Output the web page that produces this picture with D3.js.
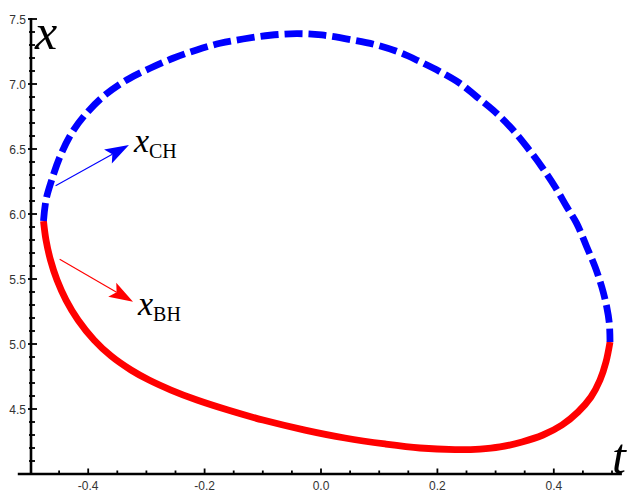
<!DOCTYPE html>
<html>
<head>
<meta charset="utf-8">
<script src="https://cdn.jsdelivr.net/npm/d3@7"></script>
<style>
  body { margin: 0; background: #fff; }
  svg { display: block; }
</style>
</head>
<body>
<div id="chart"></div>
<script>
// upper branch x_CH (dashed blue), from left junction over the top to right junction
const upperT = [-0.4768, -0.4725, -0.4627, -0.4485, -0.4284, -0.4026, -0.3711, -0.3338, -0.2938, -0.2543,
  -0.2136, -0.1735, -0.1340, -0.0876, -0.0418, 0.0012, 0.0550, 0.0957, 0.1357, 0.1701, 0.2045, 0.2388,
  0.2675, 0.2955, 0.3247, 0.3534, 0.3792, 0.4021, 0.4222, 0.4393, 0.4565, 0.4708, 0.4823, 0.4909, 0.4954, 0.4966];
const upperX = [5.946, 6.108, 6.262, 6.441, 6.623, 6.777, 6.915, 7.031, 7.121, 7.198,
  7.262, 7.313, 7.346, 7.375, 7.387, 7.377, 7.338, 7.300, 7.242, 7.172, 7.095, 7.005,
  6.902, 6.800, 6.672, 6.518, 6.364, 6.210, 6.056, 5.928, 5.748, 5.595, 5.441, 5.287, 5.159, 5.015];

// lower branch x_BH (solid red)
const lowerT = [-0.4768, -0.4725, -0.4648, -0.4536, -0.4381, -0.4175, -0.3900, -0.3608, -0.3265, -0.2955,
  -0.2577, -0.2131, -0.1598, -0.0997, -0.0275, 0.0412, 0.1100, 0.1701, 0.2302, 0.2732, 0.3076, 0.3454,
  0.3814, 0.4141, 0.4416, 0.4639, 0.4794, 0.4897, 0.4966];
const lowerX = [5.946, 5.800, 5.646, 5.492, 5.338, 5.185, 5.031, 4.908, 4.800, 4.723,
  4.646, 4.569, 4.492, 4.415, 4.338, 4.277, 4.231, 4.200, 4.188, 4.192, 4.208, 4.246,
  4.300, 4.377, 4.477, 4.592, 4.723, 4.862, 5.015];

const tMajor = [-0.4, -0.2, 0.0, 0.2, 0.4];
const tMinor = [-0.45, -0.35, -0.3, -0.25, -0.15, -0.1, -0.05, 0.05, 0.1, 0.15, 0.25, 0.3, 0.35, 0.45, 0.5];
const xMajor = [4.5, 5.0, 5.5, 6.0, 6.5, 7.0, 7.5];
const xMinor = [4.1, 4.2, 4.3, 4.4, 4.6, 4.7, 4.8, 4.9, 5.1, 5.2, 5.3, 5.4, 5.6, 5.7, 5.8, 5.9,
  6.1, 6.2, 6.3, 6.4, 6.6, 6.7, 6.8, 6.9, 7.1, 7.2, 7.3, 7.4];

// arrows pointing at the two branch labels
const arrowNames = ['CH', 'BH'];
const arrowColors = ['#0000ff', '#ff0000'];
const arrowFrom = [[-0.456, 6.218], [-0.449, 5.652]];
const arrowTo = [[-0.330, 6.531], [-0.323, 5.325]];

const W = 628, H = 492;

const svg = d3.select('#chart').append('svg')
  .attr('width', W)
  .attr('height', H);

const xScale = d3.scaleLinear().domain([-0.5, 0.5]).range([30, 612]);
const yScale = d3.scaleLinear().domain([4.0, 7.5]).range([474, 19]);

const axisY0 = yScale(4.0);
const axisX0 = xScale(-0.5) + 1;

// Axes lines
svg.append('line')
  .attr('x1', xScale(-0.521)).attr('x2', xScale(0.517))
  .attr('y1', axisY0).attr('y2', axisY0)
  .attr('stroke', '#000').attr('stroke-width', 2.6);

svg.append('line')
  .attr('x1', axisX0).attr('x2', axisX0)
  .attr('y1', axisY0).attr('y2', yScale(7.5) - 1)
  .attr('stroke', '#000').attr('stroke-width', 2.6);

// x ticks
svg.selectAll('.tmaj').data(tMajor).enter().append('line')
  .attr('x1', d => xScale(d)).attr('x2', d => xScale(d))
  .attr('y1', axisY0).attr('y2', axisY0 - 5.5)
  .attr('stroke', '#000').attr('stroke-width', 1.8);
svg.selectAll('.tmin').data(tMinor).enter().append('line')
  .attr('x1', d => xScale(d)).attr('x2', d => xScale(d))
  .attr('y1', axisY0).attr('y2', axisY0 - 3.5)
  .attr('stroke', '#000').attr('stroke-width', 1.8);

svg.selectAll('.tlab').data(tMajor).enter().append('text')
  .attr('x', d => xScale(d))
  .attr('y', 490)
  .attr('text-anchor', 'middle')
  .attr('font-family', 'Liberation Sans, Arial, sans-serif')
  .attr('font-size', 12)
  .attr('fill', '#333')
  .text(d => d3.format('.1f')(d).replace('−', '-'));

// y ticks
svg.selectAll('.xmaj').data(xMajor).enter().append('line')
  .attr('x1', axisX0 - 3).attr('x2', axisX0 + 6)
  .attr('y1', d => yScale(d)).attr('y2', d => yScale(d))
  .attr('stroke', '#000').attr('stroke-width', 1.8);
svg.selectAll('.xmin').data(xMinor).enter().append('line')
  .attr('x1', axisX0 - 2).attr('x2', axisX0 + 4)
  .attr('y1', d => yScale(d)).attr('y2', d => yScale(d))
  .attr('stroke', '#000').attr('stroke-width', 1.8);

svg.selectAll('.xlab').data(xMajor).enter().append('text')
  .attr('x', 26)
  .attr('y', d => yScale(d) + 4.5)
  .attr('text-anchor', 'end')
  .attr('font-family', 'Liberation Sans, Arial, sans-serif')
  .attr('font-size', 12)
  .attr('fill', '#333')
  .text(d => d3.format('.1f')(d));

// Curves
const line = d3.line()
  .x(d => xScale(d[0]))
  .y(d => yScale(d[1]))
  .curve(d3.curveCatmullRom.alpha(0.5));

const lowerPts = lowerT.map((t, i) => [t, lowerX[i]]);
const upperPts = upperT.map((t, i) => [t, upperX[i]]);

svg.append('path')
  .attr('d', line(lowerPts))
  .attr('fill', 'none')
  .attr('stroke', '#ff0000')
  .attr('stroke-width', 6.8);

svg.append('path')
  .attr('d', line(upperPts))
  .attr('fill', 'none')
  .attr('stroke', '#0000ff')
  .attr('stroke-width', 6.8)
  .attr('stroke-dasharray', '18,6');

// Arrows with labels
arrowNames.forEach((name, i) => {
  const x1 = xScale(arrowFrom[i][0]), y1 = yScale(arrowFrom[i][1]);
  const x2 = xScale(arrowTo[i][0]), y2 = yScale(arrowTo[i][1]);
  const dx = x2 - x1, dy = y2 - y1;
  const len = Math.hypot(dx, dy);
  const ux = dx / len, uy = dy / len;
  const px = -uy, py = ux;
  const L = 24, hw = 8, notch = 5;
  const bx = x2 - ux * L, by = y2 - uy * L;
  const nx = x2 - ux * (L - notch), ny = y2 - uy * (L - notch);

  svg.append('line')
    .attr('x1', x1).attr('y1', y1)
    .attr('x2', nx).attr('y2', ny)
    .attr('stroke', arrowColors[i])
    .attr('stroke-width', 1.1);

  svg.append('path')
    .attr('d', `M${x2},${y2}L${bx + px * hw},${by + py * hw}L${nx},${ny}L${bx - px * hw},${by - py * hw}Z`)
    .attr('fill', arrowColors[i]);

  const lab = svg.append('text')
    .attr('x', x2 + 5)
    .attr('y', y2 + (i === 0 ? 7 : 13))
    .attr('font-family', 'Liberation Serif, Times New Roman, serif')
    .attr('fill', '#000');
  lab.append('tspan')
    .attr('font-style', 'italic')
    .attr('font-size', 34)
    .text('x');
  lab.append('tspan')
    .attr('font-size', 20)
    .attr('dy', 6)
    .text(name);
});

// Axis labels
svg.append('text')
  .attr('x', 35)
  .attr('y', 49)
  .attr('font-family', 'Liberation Serif, Times New Roman, serif')
  .attr('font-style', 'italic')
  .attr('font-size', 50)
  .text('x');

svg.append('text')
  .attr('x', 612)
  .attr('y', 473)
  .attr('font-family', 'Liberation Serif, Times New Roman, serif')
  .attr('font-style', 'italic')
  .attr('font-size', 50)
  .text('t');
</script>
</body>
</html>
